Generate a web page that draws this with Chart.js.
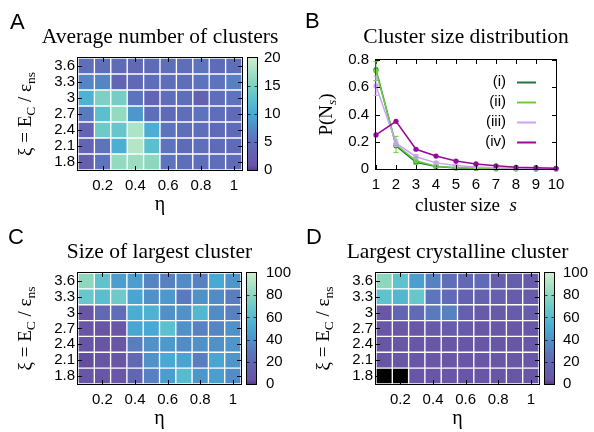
<!DOCTYPE html>
<html>
<head>
<meta charset="utf-8">
<script src="https://cdn.jsdelivr.net/npm/chart.js@4.4.0/dist/chart.umd.min.js"></script>
<style>
    body { margin: 0; background: #fff; }
    #fig { position: relative; width: 594px; height: 432px; overflow: hidden; }
    #fig canvas { position: absolute; }
    .letter {
        position: absolute;
        font-family: 'Liberation Sans', Arial, sans-serif;
        font-size: 22px;
        line-height: 22px;
        color: #000;
    }
</style>
</head>
<body>
<div id="fig">
    <canvas id="chartA" width="297" height="216" style="left:0;top:0"></canvas>
    <canvas id="chartB" width="297" height="216" style="left:297px;top:0"></canvas>
    <canvas id="chartC" width="297" height="216" style="left:0;top:216px"></canvas>
    <canvas id="chartD" width="297" height="216" style="left:297px;top:216px"></canvas>
    <div class="letter" style="left:10px;top:11px">A</div>
    <div class="letter" style="left:305px;top:10px">B</div>
    <div class="letter" style="left:8px;top:226px">C</div>
    <div class="letter" style="left:306px;top:226px">D</div>
</div>
<script>
// ---- data ----
const etaValues = [0.1, 0.2, 0.3, 0.4, 0.5, 0.6, 0.7, 0.8, 0.9, 1];
const xiValues = [1.8, 2.1, 2.4, 2.7, 3.0, 3.3, 3.6];

// rows follow xiValues (1.8 first), columns follow etaValues
const avgClusters = [
    [2.5, 5.5, 16.5, 17, 16, 5.5, 5, 5, 5, 4.5],
    [3.5, 5.5, 10.5, 18.5, 12.5, 5.5, 4.5, 5, 4.5, 4.5],
    [3.5, 14, 13.5, 18, 10.5, 5.5, 5, 5, 4.5, 4.5],
    [6, 12.5, 16.5, 8.5, 5, 4.5, 5, 5.5, 5, 4.5],
    [11, 15, 14.5, 5.5, 3.5, 5, 5, 3, 5, 5.5],
    [7, 7, 3.5, 4, 5, 5, 5, 5.5, 5.5, 6.5],
    [5, 5, 4.5, 4, 4.5, 5, 5, 5.5, 4.5, 5]
];
const largestCluster = [
    [4, 4, 5, 18, 33, 45, 60, 42, 45, 38],
    [3, 4, 4, 20, 40, 50, 47, 32, 48, 42],
    [4, 4, 5, 32, 40, 43, 38, 40, 40, 42],
    [4, 4, 5, 48, 50, 63, 40, 33, 35, 40],
    [5, 20, 25, 52, 55, 40, 40, 58, 38, 33],
    [68, 62, 70, 48, 40, 43, 30, 40, 38, 32],
    [80, 65, 45, 45, 35, 33, 38, 33, 50, 42]
];
const largestCrystal = [
    [null, null, 4, 4, 4, 4, 4, 4, 4, 4],
    [4, 5, 5, 5, 5, 5, 5, 5, 5, 5],
    [4, 5, 5, 6, 6, 6, 5, 6, 6, 6],
    [5, 5, 5, 8, 10, 8, 6, 6, 6, 6],
    [5, 18, 22, 30, 33, 12, 8, 8, 10, 10],
    [65, 58, 68, 28, 22, 15, 15, 12, 10, 8],
    [80, 65, 45, 33, 25, 20, 22, 12, 12, 8]
];
const cbTicksA = [0, 5, 10, 15, 20];
const cbTicksCD = [0, 20, 40, 60, 80, 100];

const clusterSizes = [1, 2, 3, 4, 5, 6, 7, 8, 9, 10];
const probI = [0.73, 0.17, 0.05, 0.018, 0.008, 0.004, 0.002, 0.001, 0.0005, 0.0003];
const probII = [0.72, 0.18, 0.06, 0.02, 0.01, 0.005, 0.003, 0.002, 0.001, 0.001];
const probIII = [0.61, 0.19, 0.09, 0.045, 0.025, 0.015, 0.01, 0.006, 0.004, 0.003];
const probIV = [0.25, 0.35, 0.145, 0.095, 0.058, 0.037, 0.024, 0.013, 0.01, 0.005];
const errII = [0.07, 0.06, 0.025, 0.01, 0, 0, 0, 0, 0, 0];
const errIII = [0.07, 0.025, 0.015, 0.008, 0, 0, 0, 0, 0, 0];
const seriesLabels = ['(i)', '(ii)', '(iii)', '(iv)'];

// ---- styling ----
const SANS = "'Liberation Sans', Arial, sans-serif";
const SERIF = "'Liberation Serif', 'Times New Roman', serif";
Chart.defaults.font.family = SANS;
Chart.defaults.font.size = 15;
Chart.defaults.color = '#000';
Chart.defaults.animation = false;

const paletteStops = [
    [0.00, [85, 60, 140]],
    [0.04, [105, 85, 165]],
    [0.25, [95, 110, 185]],
    [0.40, [80, 145, 200]],
    [0.50, [72, 170, 212]],
    [0.65, [95, 195, 205]],
    [0.80, [140, 215, 190]],
    [1.00, [205, 238, 205]]
];

function colorAt(t) {
    t = Math.max(0, Math.min(1, t));
    for (let i = 1; i < paletteStops.length; i++) {
        const [t1, c1] = paletteStops[i];
        const [t0, c0] = paletteStops[i - 1];
        if (t <= t1) {
            const f = (t - t0) / (t1 - t0);
            const c = c0.map((v, k) => Math.round(v + (c1[k] - v) * f));
            return `rgb(${c[0]}, ${c[1]}, ${c[2]})`;
        }
    }
    return 'rgb(205, 238, 205)';
}

function fmt(v) {
    return String(Math.round(v * 10) / 10);
}

// draws a line of text made of parts with different fonts / offsets
function drawRich(ctx, parts, x, y, rotate) {
    ctx.save();
    ctx.translate(x, y);
    if (rotate) ctx.rotate(-Math.PI / 2);
    ctx.fillStyle = '#000';
    ctx.textBaseline = 'alphabetic';
    ctx.textAlign = 'left';
    let total = 0;
    parts.forEach(p => {
        ctx.font = p.font;
        p.w = ctx.measureText(p.text).width;
        total += p.w;
    });
    let cx = -total / 2;
    parts.forEach(p => {
        ctx.font = p.font;
        ctx.fillText(p.text, cx, p.dy || 0);
        cx += p.w;
    });
    ctx.restore();
}

// panel title centred over the plot, plus axis titles with subscripts
const richTitles = {
    id: 'richTitles',
    afterDraw(chart, args, opts) {
        const a = chart.chartArea;
        const cx = (a.left + a.right) / 2;
        if (opts.title) drawRich(chart.ctx, [{ text: opts.title, font: `21.5px ${SERIF}` }], cx, a.top - opts.titleGap, false);
        if (opts.y) drawRich(chart.ctx, opts.y, a.left - opts.yGap, (a.top + a.bottom) / 2, true);
        if (opts.x) drawRich(chart.ctx, opts.x, cx, a.bottom + opts.xGap, false);
    }
};

// gnuplot-like frame with inward ticks on all four sides
const framePlugin = {
    id: 'frame',
    afterDatasetsDraw(chart) {
        const { ctx, chartArea: a, scales } = chart;
        const tl = 4;
        ctx.save();
        ctx.strokeStyle = '#000';
        ctx.lineWidth = 1;
        ctx.beginPath();
        scales.x.ticks.forEach((t, i) => {
            if (t.label === '') return;
            const px = Math.round(scales.x.getPixelForTick(i)) + 0.5;
            ctx.moveTo(px, a.bottom); ctx.lineTo(px, a.bottom - tl);
            ctx.moveTo(px, a.top); ctx.lineTo(px, a.top + tl);
        });
        scales.y.ticks.forEach(t => {
            const py = Math.round(scales.y.getPixelForValue(t.value)) + 0.5;
            ctx.moveTo(a.left, py); ctx.lineTo(a.left + tl, py);
            ctx.moveTo(a.right, py); ctx.lineTo(a.right - tl, py);
        });
        ctx.stroke();
        ctx.strokeRect(Math.round(a.left) - 0.5, Math.round(a.top) - 0.5,
            Math.round(a.right - a.left) + 1, Math.round(a.bottom - a.top) + 1);
        ctx.restore();
    }
};

// colour strip drawn against the right-hand 'cb' scale
const colorbarPlugin = {
    id: 'colorbar',
    afterDraw(chart) {
        const cb = chart.scales.cb;
        if (!cb) return;
        const ctx = chart.ctx;
        const x0 = Math.round(chart.chartArea.right) + 6;
        const w = 9;
        const top = cb.getPixelForValue(cb.max);
        const bottom = cb.getPixelForValue(cb.min);
        const grad = ctx.createLinearGradient(0, bottom, 0, top);
        paletteStops.forEach(([t, c]) => grad.addColorStop(t, `rgb(${c[0]}, ${c[1]}, ${c[2]})`));
        ctx.save();
        ctx.fillStyle = grad;
        ctx.fillRect(x0, top, w, bottom - top);
        ctx.strokeStyle = '#000';
        ctx.lineWidth = 1;
        ctx.strokeRect(x0 - 0.5, Math.round(top) - 0.5, w + 1, Math.round(bottom - top) + 1);
        ctx.strokeStyle = 'rgba(0,0,0,0.7)';
        ctx.beginPath();
        cb.ticks.forEach(t => {
            if (t.value === cb.min || t.value === cb.max) return;
            const py = Math.round(cb.getPixelForValue(t.value)) + 0.5;
            ctx.moveTo(x0, py); ctx.lineTo(x0 + 2.5, py);
            ctx.moveTo(x0 + w, py); ctx.lineTo(x0 + w - 2.5, py);
        });
        ctx.stroke();
        ctx.restore();
    }
};

const xiTitle = [
    { text: 'ξ = E', font: `19px ${SERIF}` },
    { text: 'C', font: `13.5px ${SERIF}`, dy: 4 },
    { text: ' / ε', font: `19px ${SERIF}` },
    { text: 'ns', font: `13.5px ${SERIF}`, dy: 4 }
];
const etaTitle = [{ text: 'η', font: `20px ${SERIF}` }];

function heatmap(id, title, grid, cbTicks, layout) {
    const half = (xiValues[1] - xiValues[0]) / 2;
    const cbMax = cbTicks[cbTicks.length - 1];
    return new Chart(document.getElementById(id), {
        type: 'bar',
        data: {
            labels: etaValues.map(String),
            datasets: xiValues.map((xi, r) => ({
                label: 'ξ = ' + fmt(xi),
                data: grid[r].map(() => [xi - half, xi + half]),
                backgroundColor: grid[r].map(v => v === null ? '#000' : colorAt(v / cbMax)),
                borderColor: '#fff',
                borderWidth: 1,
                borderSkipped: false,
                grouped: false,
                barPercentage: 1,
                categoryPercentage: 1
            }))
        },
        options: {
            responsive: false,
            devicePixelRatio: 1,
            layout: { padding: { top: layout.top } },
            scales: {
                x: {
                    type: 'category',
                    grid: { display: false, drawTicks: false },
                    border: { display: false },
                    ticks: {
                        autoSkip: false,
                        maxRotation: 0,
                        padding: layout.xPad,
                        callback: (v, i) => i % 2 === 1 ? String(etaValues[i]) : ''
                    },
                    afterFit: s => { s.height = layout.xHeight; }
                },
                y: {
                    type: 'linear',
                    min: xiValues[0] - half,
                    max: xiValues[xiValues.length - 1] + half,
                    grid: { display: false, drawTicks: false },
                    border: { display: false },
                    ticks: { padding: 3, autoSkip: false, callback: v => fmt(v) },
                    afterBuildTicks: s => { s.ticks = xiValues.map(v => ({ value: v })); },
                    afterFit: s => { s.width = layout.yWidth; }
                },
                cb: {
                    type: 'linear',
                    position: 'right',
                    min: 0,
                    max: cbMax,
                    grid: { display: false, drawTicks: false },
                    border: { display: false },
                    ticks: { padding: layout.cbPad, autoSkip: false },
                    afterBuildTicks: s => { s.ticks = cbTicks.map(v => ({ value: v })); },
                    afterFit: s => { s.width = layout.cbWidth; }
                }
            },
            plugins: {
                legend: { display: false },
                tooltip: { enabled: false },
                richTitles: { title: title, titleGap: 15, y: xiTitle, yGap: 47, x: etaTitle, xGap: 40 }
            }
        },
        plugins: [framePlugin, colorbarPlugin, richTitles]
    });
}

heatmap('chartA', 'Average number of clusters', avgClusters, cbTicksA,
    { top: 58, yWidth: 78, cbWidth: 55, cbPad: 22, xHeight: 46, xPad: 7 });
heatmap('chartC', 'Size of largest cluster', largestCluster, cbTicksCD,
    { top: 57, yWidth: 78, cbWidth: 56, cbPad: 25, xHeight: 48, xPad: 7 });
heatmap('chartD', 'Largest crystalline cluster', largestCrystal, cbTicksCD,
    { top: 57, yWidth: 79, cbWidth: 55, cbPad: 24, xHeight: 48, xPad: 7 });

// ---- panel B: cluster size distribution ----
const errorBars = {
    id: 'errorBars',
    afterDatasetsDraw(chart) {
        const { ctx, scales } = chart;
        ctx.save();
        chart.data.datasets.forEach(ds => {
            if (!ds.err) return;
            ctx.strokeStyle = ds.borderColor;
            ctx.lineWidth = 1;
            ctx.beginPath();
            ds.data.forEach((p, i) => {
                const e = ds.err[i];
                if (!e) return;
                const px = scales.x.getPixelForValue(p.x);
                const y1 = scales.y.getPixelForValue(Math.max(0, p.y - e));
                const y2 = scales.y.getPixelForValue(p.y + e);
                ctx.moveTo(px, y1); ctx.lineTo(px, y2);
                ctx.moveTo(px - 2.5, y1); ctx.lineTo(px + 2.5, y1);
                ctx.moveTo(px - 2.5, y2); ctx.lineTo(px + 2.5, y2);
            });
            ctx.stroke();
        });
        ctx.restore();
    }
};

const lineLegend = {
    id: 'lineLegend',
    afterDraw(chart) {
        const { ctx, chartArea: a } = chart;
        ctx.save();
        ctx.font = `15px ${SANS}`;
        ctx.textAlign = 'right';
        ctx.textBaseline = 'middle';
        chart.data.datasets.forEach((ds, i) => {
            const y = a.top + 22 + i * 20;
            ctx.fillStyle = '#000';
            ctx.fillText(ds.label, a.right - 50, y);
            ctx.strokeStyle = ds.borderColor;
            ctx.lineWidth = 2;
            ctx.beginPath();
            ctx.moveTo(a.right - 39, y + 0.5);
            ctx.lineTo(a.right - 20, y + 0.5);
            ctx.stroke();
        });
        ctx.restore();
    }
};

function series(label, values, color, order, err) {
    return {
        label: label,
        data: clusterSizes.map((s, i) => ({ x: s, y: values[i] })),
        borderColor: color,
        backgroundColor: color,
        borderWidth: 1.5,
        pointRadius: 2.6,
        pointBorderWidth: 0,
        pointHoverRadius: 2.6,
        tension: 0,
        clip: false,
        order: order,
        err: err
    };
}

new Chart(document.getElementById('chartB'), {
    type: 'line',
    data: {
        datasets: [
            series(seriesLabels[0], probI, '#1f7440', 3, null),
            series(seriesLabels[1], probII, '#6acc3c', 2, errII),
            series(seriesLabels[2], probIII, '#caa2f7', 1, errIII),
            series(seriesLabels[3], probIV, '#960a96', 0, null)
        ]
    },
    options: {
        responsive: false,
        devicePixelRatio: 1,
        layout: { padding: { top: 60, right: 38 } },
        scales: {
            x: {
                type: 'linear',
                min: 1,
                max: 10,
                grid: { display: false, drawTicks: false },
                border: { display: false },
                ticks: { stepSize: 1, padding: 7, maxRotation: 0, autoSkip: false },
                afterFit: s => { s.height = 47; }
            },
            y: {
                type: 'linear',
                min: 0,
                max: 0.8,
                grid: { display: false, drawTicks: false },
                border: { display: false },
                ticks: { stepSize: 0.2, padding: 7, callback: v => fmt(v) },
                afterFit: s => { s.width = 79; }
            }
        },
        plugins: {
            legend: { display: false },
            tooltip: { enabled: false },
            richTitles: {
                title: 'Cluster size distribution',
                titleGap: 17,
                y: [
                    { text: 'P(N', font: `19px ${SERIF}` },
                    { text: 's', font: `italic 13.5px ${SERIF}`, dy: 4 },
                    { text: ')', font: `19px ${SERIF}` }
                ],
                yGap: 44,
                x: [
                    { text: 'cluster size  ', font: `19px ${SERIF}` },
                    { text: 's', font: `italic 19px ${SERIF}` }
                ],
                xGap: 42
            }
        }
    },
    plugins: [framePlugin, errorBars, lineLegend, richTitles]
});
</script>
</body>
</html>
